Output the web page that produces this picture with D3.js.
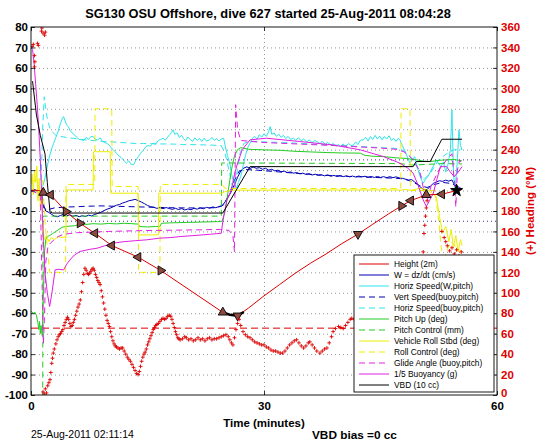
<!DOCTYPE html>
<html><head><meta charset="utf-8">
<script src="https://cdn.jsdelivr.net/npm/d3@7"></script>
<style>
body{margin:0;background:#fff;}
text{font-family:"Liberation Sans",Arial,Helvetica,sans-serif;}
</style></head>
<body><svg id="c" width="546" height="442"></svg>
<script>
// ---------------- DATA ----------------
const titleText = "SG130 OSU Offshore, dive 627 started 25-Aug-2011 08:04:28";
const xTicks = [0, 30, 60];
const yTicks = [-100,-90,-80,-70,-60,-50,-40,-30,-20,-10,0,10,20,30,40,50,60,70,80];
const yRTicks = [0,20,40,60,80,100,120,140,160,180,200,220,240,260,280,300,320,340,360];
const legendLabels = ["Height (2m)","W = dz/dt (cm/s)","Horiz Speed(W,pitch)","Vert Speed(buoy,pitch)",
  "Horiz Speed(buoy,pitch)","Pitch Up (deg)","Pitch Control (mm)","Vehicle Roll Stbd (deg)",
  "Roll Control (deg)","Glide Angle (buoy,pitch)","1/5 Buoyancy (g)","VBD (10 cc)"];
const wTargets = [15, -15];
const headingTarget = 65.4;

// [time (min), value]
const height = [[0,0],[0.5,0.2],[1.0,0],[1.3,-0.3],[1.58,-1],[2.54,-2.1],[4.5,-10.3],[6.3,-16],[8.24,-20.9],[10.4,-26.9],[13.8,-32.6],[16.7,-39.1],[24.7,-59.6],[25.5,-60.6],[26.6,-61.2],[28,-57.5],[30,-51.5],[32,-46],[34,-40.5],[36,-35.5],[38,-31],[40,-26],[42.1,-21.3],[44,-16.5],[46,-11.5],[47.7,-7.5],[48.9,-4.9],[50.9,-2.1],[52.9,-1.8],[54.8,0],[55.5,0.5]];
const heightMarks = [[1.58,-1,"up"],[2.54,-2.1,"left"],[4.5,-10.3,"right"],[6.3,-16,"right"],[8.24,-20.9,"left"],[10.4,-26.9,"left"],[13.8,-32.6,"left"],[16.7,-39.1,"right"],[24.7,-59.6,"up"],[26.6,-61.2,"down"],[42.1,-21.3,"down"],[47.7,-7.5,"right"],[48.9,-4.9,"left"],[50.9,-2.1,"up"],[52.9,-1.8,"left"]];
const heightBlack = [[24.7,-59.6],[25.6,-60.7],[26.6,-61.2],[27.4,-59.4]];
const heightStar = [[54.8,0]];

const wSpeed = [[0,0],[0.5,0.5],[1.0,-1],[1.3,-3],[1.6,-8],[1.9,-10],[2.2,-10.5],[2.6,-11.5],[3.0,-12.5],[3.4,-12.8],[3.8,-12.2],[4.2,-11.6],[4.6,-12.3],[5.0,-11.9],[5.4,-12.6],[5.8,-12.1],[6.2,-12.8],[6.6,-12.3],[7.0,-12.7],[7.4,-12.0],[7.8,-12.4],[8.2,-11.7],[8.6,-11.2],[9.0,-10.6],[9.4,-9.8],[9.8,-9.1],[10.2,-8.6],[10.6,-7.9],[11.0,-7.2],[11.4,-6.8],[11.8,-6.1],[12.2,-5.6],[12.6,-5.0],[13.0,-4.7],[13.4,-4.3],[13.8,-4.9],[14.2,-5.6],[14.6,-6.4],[15.0,-7.3],[15.4,-7.9],[15.8,-8.2],[16.2,-8.7],[16.6,-8.4],[17.0,-8.9],[17.4,-8.3],[17.8,-8.8],[18.2,-9.2],[18.6,-8.7],[19.0,-9.3],[19.4,-8.8],[19.8,-9.5],[20.2,-9.0],[20.6,-9.4],[21.0,-8.7],[21.4,-9.1],[21.8,-8.5],[22.2,-8.9],[22.6,-8.2],[23.0,-8.6],[23.4,-8.0],[23.8,-8.4],[24.2,-7.8],[24.6,-7.5],[25.0,-5.5],[25.4,-3.0],[25.8,-0.5],[26.2,3],[26.6,6.5],[27.0,9.5],[27.4,11.0],[27.8,11.6],[28.2,10.8],[28.6,11.5],[29.0,10.9],[29.4,11.2],[29.8,10.4],[30.2,10.9],[30.6,10.0],[31.0,10.4],[31.4,9.6],[31.8,10.0],[32.2,9.2],[32.6,9.5],[33.0,8.8],[33.4,9.1],[33.8,8.5],[34.2,8.8],[34.6,8.2],[35.0,8.5],[35.4,7.9],[35.8,8.2],[36.2,7.6],[36.6,8.0],[37.0,7.4],[37.4,7.7],[37.8,7.2],[38.2,7.6],[38.6,7.0],[39.0,7.4],[39.4,6.9],[39.8,7.3],[40.2,6.8],[40.6,7.2],[41.0,6.7],[41.4,7.1],[41.8,6.6],[42.2,7.1],[42.6,6.7],[43.0,7.0],[43.4,6.5],[43.8,6.9],[44.2,6.4],[44.6,6.9],[45.0,6.4],[45.4,6.8],[45.8,6.3],[46.2,6.8],[46.6,6.3],[47.0,6.7],[47.4,6.2],[47.8,6.0],[48.2,5.6],[48.6,5.1],[49.0,5.4],[49.4,4.2],[49.8,3.0],[50.2,1.5],[50.6,0.3],[51.0,0.5],[51.4,2.0],[51.8,3.5],[52.2,4.2],[52.6,4.8],[53.0,4.5],[53.4,5.1],[53.8,4.6],[54.2,5.2],[54.5,3.0],[54.8,0.8],[55.2,1.5],[55.5,0.5]];

const horizW = [[1.5,2],[1.8,6],[2.1,12],[2.4,17],[2.7,21],[2.9,23],[3.2,26],[3.5,29],[3.8,33],[4.0,35],[4.2,36.2],[4.4,34],[4.6,32],[4.8,31.3],[5.0,29.5],[5.2,28.5],[5.4,28],[5.6,27],[5.8,26.5],[6.0,25.8],[6.2,25],[6.5,24.8],[6.8,24.5],[7.1,26],[7.4,25],[7.7,26.4],[8.0,26.4],[8.3,25],[8.6,24.8],[8.9,25.8],[9.2,24],[9.5,23.5],[9.7,23.2],[10.0,22.5],[10.3,21],[10.6,20],[11.0,18.3],[11.3,17],[11.6,16.2],[12.0,14.5],[12.3,13.4],[12.6,14.5],[12.9,12.8],[13.2,12.6],[13.5,14.8],[13.8,16.5],[14.1,18.2],[14.5,19.9],[14.8,21.5],[15.1,22],[15.4,21.8],[15.7,23.2],[16.0,22.5],[16.4,24.5],[16.7,25],[17.0,25.6],[17.3,24.6],[17.6,26.2],[17.9,27.5],[18.1,28.5],[18.3,29.7],[18.5,27.5],[18.8,28.2],[19.1,26],[19.4,27],[19.6,25.6],[19.9,24.4],[20.2,26.2],[20.5,25],[20.8,24],[21.1,25.8],[21.4,24.5],[21.7,25.5],[22.0,24],[22.3,25.6],[22.6,24.2],[23.0,24.8],[23.3,26],[23.6,24.6],[23.9,25.4],[24.2,24.2],[24.5,25.2],[24.8,25.6],[25.0,22],[25.3,17],[25.6,13.4],[25.8,8.5],[26.1,4],[26.5,1.2],[26.7,4],[27.0,6.8],[27.3,12],[27.6,17],[27.9,21],[28.2,23.2],[28.5,25.6],[28.8,26.5],[29.1,25.2],[29.4,27.3],[29.7,26.1],[30.0,27.8],[30.3,26.5],[30.6,28.8],[30.8,31.3],[31.0,27.5],[31.3,28.2],[31.6,26.5],[31.9,27.6],[32.2,26],[32.5,27],[32.8,25.4],[33.1,26.5],[33.4,25],[33.8,25.6],[34.1,24.6],[34.4,25.8],[34.8,24.4],[35.1,25.2],[35.5,23.8],[35.8,24.8],[36.2,23.5],[36.5,24.5],[36.8,24],[37.2,23],[37.5,24.2],[37.9,22.6],[38.2,23.6],[38.6,22.2],[38.9,23],[39.3,21.8],[39.6,22.6],[39.8,21.5],[40.2,22.8],[40.5,21.6],[40.9,23],[41.2,22],[41.5,22.3],[41.8,23.8],[42.1,22.5],[42.4,24.6],[42.8,24.8],[43.1,26],[43.4,24.2],[43.7,26.4],[44.0,25],[44.3,27],[44.6,25.2],[44.9,26.6],[45.2,24.8],[45.5,26.5],[45.8,25.2],[46.1,26.8],[46.4,24.5],[46.7,25.5],[47.0,24],[47.3,25.6],[47.5,24.8],[47.8,22],[48.1,19.9],[48.4,17],[48.8,13.4],[49.1,15],[49.4,16.6],[49.7,12],[50.0,8],[50.3,5],[50.5,3.6],[50.8,5.5],[51.1,6.8],[51.4,9],[51.8,12],[52.2,15],[52.5,13],[52.8,11.7],[53.1,14],[53.4,9],[53.7,13],[54.0,20],[54.2,39.4],[54.4,8],[54.6,0.3],[54.9,15],[55.1,29.7],[55.3,22],[55.5,20]];

const vertBuoy = [[1.4,-2],[1.7,-8],[2.0,-10],[2.5,-9],[3,-8.5],[4,-8.2],[5,-8.0],[6,-7.9],[7,-7.7],[8,-7.6],[9,-7.5],[10,-7.6],[12,-7.8],[14,-8.0],[16,-8.2],[18,-8.4],[20,-8.5],[22,-8.5],[24,-8.4],[24.8,-7],[25.5,-2],[26.2,5],[26.8,9.5],[27.5,10.3],[29,10.0],[31,9.4],[33,8.8],[35,8.2],[37,7.7],[39,7.3],[41,6.9],[43,6.6],[45,6.3],[47,6.0],[48,5.7],[49,4.5],[50,2.5],[51,1.5],[52,3],[53,4],[54,3.5],[55,2],[55.5,1.5]];

const horizBuoy = [[1.3,5],[1.5,30],[1.7,45.9],[1.9,40],[2.1,35],[2.4,31],[2.8,28.5],[3.2,27],[3.8,26.5],[4.5,26],[5.5,25.5],[6.5,25],[7.5,24.6],[8.5,24.3],[9.5,24],[10.5,23.8],[11.5,23.5],[12.5,23.3],[13.5,23],[14.5,23],[15.5,23],[16.5,22.8],[17.5,22.8],[18.5,22.7],[19.5,22.5],[20.5,22.5],[21.5,22.4],[22.5,22.3],[23.5,22.2],[24.5,22.0],[25,18],[25.6,8],[26.0,1],[26.4,6],[26.9,18],[27.4,23],[28,24],[30,23.8],[32,23.5],[34,23.2],[36,22.8],[38,22.4],[40,22],[42,21.6],[44,21.2],[46,20.8],[47.5,20.5],[48.5,18],[49.5,13],[50.5,5],[51.5,9],[52.5,15],[53.5,18],[54.5,20],[55.5,20]];

const pitchUp = [[0,-59],[0.3,-60],[0.5,-59.5],[0.7,-61],[0.9,-65],[1.0,-68],[1.1,-64],[1.2,-70],[1.3,-66],[1.45,-71],[1.6,-50],[1.75,-30],[1.9,-24],[2.1,-22.5],[2.4,-22],[2.8,-21],[3.2,-20],[3.6,-19],[4.0,-18],[4.4,-17.6],[5.0,-17.4],[5.6,-17.2],[6.3,-16.5],[7,-16.6],[8,-16.2],[9,-16.4],[10,-16.1],[11,-16.3],[12,-16],[13,-16.2],[13.8,-16.4],[14,-17.6],[15,-17.8],[16,-17.6],[16.6,-17.5],[16.8,-16],[18,-15.8],[20,-15.6],[22,-15.4],[24,-15.2],[24.6,-15],[25.0,-10],[25.4,0],[25.8,10],[26.2,17],[26.6,20],[27,21],[28,20.2],[30,19.9],[32,19.7],[34,19.2],[36,18.9],[38,18.6],[40,18.4],[42.4,18.3],[43,17.2],[44,16.8],[45.4,16.6],[47,16],[48,15.8],[49.7,15],[50.5,14.4],[51.5,14.2],[52.5,14.8],[53.5,15],[54.5,15.2],[55.5,14.5]];

const pitchCtl = [[0,-120],[1.5,-120],[1.55,-12.5],[24.5,-12.5],[24.55,13.5],[47.5,13.2],[49,12.5],[51,12.8],[53,13.2],[55.5,13]];

const rollStbd = [[0,3],[0.15,8],[0.3,-2],[0.45,10],[0.6,4],[0.75,12],[0.9,-5],[1.05,6],[1.2,-8],[1.35,2],[1.5,-15],[1.7,-24],[2.0,-22],[2.3,-25],[2.6,-23],[3.0,-24],[3.5,-22.5],[4.0,-23],[4.5,-22.5],[4.55,0.3],[8.0,0.3],[8.05,19],[10.2,19],[10.25,-1.3],[13.8,-1.3],[13.85,-21.7],[16.4,-21.7],[16.45,-1.3],[24.6,-1.3],[25,-0.5],[26,0.2],[47.4,0.3],[47.5,0],[48,0.5],[49,0.2],[50,1],[51,0.5],[52.2,-3],[52.6,-12.7],[53.0,-20.8],[53.4,-17.6],[53.8,-25],[54.1,-19],[54.4,-28],[54.7,-22],[55.0,-30],[55.3,-24],[55.5,-27]];

const rollCtl = [[0,5],[1.5,5],[1.8,-15],[2.4,-40],[4.45,-40],[4.5,3],[8.2,3],[8.25,40],[10.4,40],[10.45,2],[13.8,2],[13.85,-40],[16.6,-40],[16.65,3],[24.6,3],[25,1],[47.6,1],[47.65,40],[48.8,40],[48.85,0],[52,0],[52.5,-15],[53,-35],[54,-25],[55.5,-30]];

const glide = [[0,0],[1.2,-2],[1.4,-40],[1.6,-75],[1.75,-60],[1.9,-35],[2.2,-27],[2.5,-25.7],[3.0,-24],[3.5,-22.5],[4.2,-21.4],[5,-21],[6,-20.6],[8,-20.3],[10,-20],[12,-19.8],[14,-19.6],[16,-19.5],[18,-19.4],[20,-19.3],[22,-19.2],[24.4,-19],[25.5,-19.5],[26.0,-22],[26.2,-30],[26.35,42],[26.6,30],[27,24.5],[30,23.5],[33,23],[36,22.5],[39,22],[42,21.4],[45,20.8],[47,20.2],[48,19],[49,16],[50,10],[50.6,0],[51,-5],[51.5,2],[52.5,10],[53.5,15],[54.2,18],[54.5,5],[54.7,-8],[54.9,10],[55.2,15],[55.5,12]];

const buoyancy = [[0,70],[0.2,69],[0.4,62],[0.6,52],[0.8,42],[1.0,30],[1.2,15],[1.4,-5],[1.6,-25],[1.8,-40],[2.1,-50],[2.4,-56.7],[2.7,-50],[3.1,-38.8],[3.5,-38.5],[4.2,-38.8],[4.6,-36],[5,-34],[5.6,-31.5],[6.3,-29.8],[7.5,-28.8],[8.5,-28.2],[9.5,-27],[10.6,-25.7],[12,-25],[13.5,-24.5],[14.9,-24.1],[16.5,-23.3],[18,-23],[19.2,-22.5],[21,-22],[23,-21.4],[24.5,-20.9],[24.7,-15],[25.2,-5],[25.8,0.3],[26.2,8],[26.6,13.4],[27.2,20],[28.2,24.8],[30.3,25.6],[34.6,24],[38.9,22.3],[42.4,19.9],[45.4,16.6],[47.5,13.4],[48.5,11],[49.2,8.5],[49.8,3],[50.5,-4.6],[50.9,-7.8],[51.3,-5],[51.8,-1.3],[52.3,6],[52.7,11.7],[53.5,11.7],[54.0,9],[54.5,6.8],[55.0,9],[55.5,11.7]];

const vbd = [[0.2,53.5],[0.7,37],[1.2,27],[1.8,18],[2.1,4],[2.45,-10.5],[2.8,-11],[24.7,-11],[28.2,11.7],[49.2,11.7],[49.6,14.2],[51.4,14.2],[52.9,25.1],[55.5,25.1]];

// heading: [time (min), degrees M]
const heading = [[0.15,341],[0.3,343],[0.45,332],[0.5,326],[0.45,321],[0.85,344],[0.95,342],[1.35,356],[1.4,359],[1.55,354],[1.75,352],[1.85,355],
[1.55,3],[1.7,1],[1.85,6],[2.0,2],[2.15,9],[2.3,12],[2.45,15],[2.55,22],[2.67,31],[2.77,36],[2.87,41],[3.0,45],[3.2,50],[3.35,54],[3.5,57],[3.65,59],[3.8,60],[3.95,62],[4.1,64],[4.25,68],[4.4,71],[4.55,74],[4.7,76],[4.85,74],[5.0,70],[5.15,67],[5.3,68],[5.45,71],[5.6,74],[5.75,78],[5.9,82],[6.05,86],[6.2,89],[6.35,93],[6.5,101],[6.65,110],[6.8,118],[6.95,124],[7.1,122],[7.25,119],[7.4,118],[7.55,119],[7.7,121],[7.85,123],[8.0,124],[8.15,122],[8.3,118],[8.45,115],[8.6,112],[8.75,110],[8.9,108],[9.05,102],[9.2,96],[9.35,90],[9.5,84],[9.65,78],[9.8,73],[9.95,70],[10.1,67],[10.25,62],[10.4,57],[10.55,53],[10.7,50],[10.85,48],[11.0,47],[11.2,46],[11.4,45],[11.6,46],[11.8,46],[12.0,43],[12.2,40],[12.4,37],[12.6,35],[12.8,33],[13.0,30],[13.2,27],[13.4,24],[13.6,21],[13.8,20],[13.95,23],[14.1,28],[14.25,33],[14.4,37],[14.55,40],[14.7,42],[14.85,45],[15.0,49],[15.15,52],[15.3,55],[15.45,58],[15.6,61],[15.75,64],[15.9,66],[16.05,68],[16.2,69],[16.4,70],[16.6,72],[16.8,74],[17.0,75],[17.2,74],[17.4,75],[17.6,77],[17.8,78],[18.0,77],[18.15,74],[18.3,70],[18.45,66],[18.6,62],[18.75,59],[18.9,56],[19.05,55],[19.2,54],
[19.5,55],[19.8,57],[20.0,56],[20.3,54],[20.6,55],[20.9,53],[21.2,54],[21.5,56],[21.8,54],[22.1,55],[22.4,53],[22.7,55],[23.0,56],[23.3,54],[23.6,55],[23.9,55],[24.2,56],[24.5,57],[24.8,58],[25.1,59],[25.4,57],[25.6,54],[25.8,51],[26.0,49],[26.2,56],[26.4,64],[26.6,70],[26.8,74],[27.0,68],[27.3,62],[27.6,59],[27.9,57],[28.2,56],[28.5,54],[28.8,52],[29.1,51],[29.4,50],[29.7,49],[30.0,49],[30.3,47],[30.6,46],[30.9,44],[31.2,43],[31.5,43],[31.8,42],[32.1,41],[32.4,41],[32.7,43],[33.0,46],[33.3,49],[33.6,51],[33.9,53],[34.2,54],[34.5,51],[34.8,48],[35.1,46],[35.4,48],[35.7,51],[35.9,52],[36.2,49],[36.5,46],[36.8,43],[37.2,41],[37.5,43],[37.8,45],[38.1,46],[38.4,51],[38.7,57],[38.9,62],[39.2,65],[39.6,67],[39.9,66],[40.2,65],[40.5,68],[40.8,71],[41.1,74],[41.3,75],[41.6,74],[41.9,73],[42.1,73],
[42.5,74],[43.0,77],[43.5,80],[44.0,82],[44.5,84],[45.0,86],[45.5,85],[46.0,88],[46.5,90],[47.0,92],[47.5,95],[48.0,100],[48.5,108],[49.0,115],[49.5,118],[50.0,122],[50.3,128],[50.5,140],[50.6,158],[50.7,166],[50.8,175],[50.9,183],[51.0,190],
[52.9,160],[53.2,154],[53.4,150],[53.6,146],[53.9,141],[54.2,144],[54.5,138],[54.8,142],[55.1,136],[55.4,140]];

// ---------------- DRAW ----------------
const svg = d3.select("#c");
const L = 31, R = 497, T = 27, B = 395;
const x = d3.scaleLinear().domain([0, 60]).range([L, R]);
const y = d3.scaleLinear().domain([-100, 80]).range([B, T]);
const yR = d3.scaleLinear().domain([0, 360]).range([B, T]);

const C = {red:"#dd0000", blue:"#0000b4", cyan:"#2ee4ea", green:"#22cc22", yellow:"#eeee00", mag:"#e020e0", black:"#000"};

svg.append("rect").attr("x",0).attr("y",0).attr("width",546).attr("height",442).attr("fill","#fff");
svg.append("defs").append("clipPath").attr("id","clip")
  .append("rect").attr("x",L).attr("y",T).attr("width",R-L).attr("height",B-T);

// grid
const grid = svg.append("g").attr("class","grid");
grid.append("g").attr("transform",`translate(${L},0)`)
  .call(d3.axisLeft(y).tickValues(yTicks.filter(v=>v>-100&&v<80)).tickSize(-(R-L)).tickFormat(""))
  .call(g=>g.select(".domain").remove())
  .call(g=>g.selectAll("line").attr("stroke","#666").attr("stroke-width",0.7).attr("stroke-dasharray","1,3"));
grid.append("g").attr("transform",`translate(0,${B})`)
  .call(d3.axisBottom(x).tickValues([30]).tickSize(-(B-T)).tickFormat(""))
  .call(g=>g.select(".domain").remove())
  .call(g=>g.selectAll("line").attr("stroke","#666").attr("stroke-width",0.7).attr("stroke-dasharray","1,3"));
grid.selectAll("line.wt").data(wTargets).join("line").attr("class","wt")
  .attr("x1",L).attr("x2",R).attr("y1",d=>y(d)).attr("y2",d=>y(d))
  .attr("stroke","#000080").attr("stroke-width",0.8).attr("stroke-dasharray","1,3");

const plot = svg.append("g").attr("clip-path","url(#clip)");
const line = d3.line().x(d=>x(d[0])).y(d=>y(d[1]));

// heading target dashed
plot.append("line").attr("x1",L).attr("x2",R).attr("y1",yR(headingTarget)).attr("y2",yR(headingTarget))
  .attr("stroke",C.red).attr("stroke-width",1).attr("stroke-dasharray","7,4");

const series = [
  [wSpeed, C.blue, null],
  [horizW, C.cyan, null],
  [vertBuoy, C.blue, "6,4"],
  [horizBuoy, C.cyan, "6,4"],
  [pitchUp, C.green, null],
  [pitchCtl, C.green, "6,4"],
  [rollStbd, C.yellow, null],
  [rollCtl, C.yellow, "6,4"],
  [glide, C.mag, "6,4"],
  [buoyancy, C.mag, null],
  [vbd, C.black, null]
];
series.forEach(([d,c,dash])=>{
  plot.append("path").datum(d).attr("d",line).attr("fill","none").attr("stroke",c)
    .attr("stroke-width",1).attr("stroke-dasharray",dash);
});

// height line + markers
plot.append("path").datum(height).attr("d",line).attr("fill","none").attr("stroke",C.red).attr("stroke-width",1);
plot.append("path").datum(heightBlack).attr("d",line).attr("fill","none").attr("stroke","#000").attr("stroke-width",2.5);
const rot = {up:0,right:90,down:180,left:-90};
plot.selectAll("path.hm").data(heightMarks).join("path").attr("class","hm")
  .attr("d",d3.symbol(d3.symbolTriangle,36))
  .attr("transform",d=>`translate(${x(d[0])},${y(d[1])}) rotate(${rot[d[2]]})`)
  .attr("fill","#8a4a40").attr("stroke","#000").attr("stroke-width",0.9);
plot.selectAll("path.hs").data(heightStar).join("path").attr("class","hs")
  .attr("d",d3.symbol(d3.symbolStar,45))
  .attr("transform",d=>`translate(${x(d[0])},${y(d[1])})`).attr("fill","#000").attr("stroke","#000");

// heading +
plot.selectAll("path.hd").data(heading).join("path").attr("class","hd")
  .attr("d","M-1.9,0H1.9M0,-1.9V1.9")
  .attr("transform",d=>`translate(${x(d[0])},${yR(d[1])})`)
  .attr("stroke",C.red).attr("stroke-width",0.9).attr("fill","none");

// axes
const fmt = d=>String(d);
const ax = svg.append("g");
ax.append("g").attr("transform",`translate(${L},0)`)
  .call(d3.axisLeft(y).tickValues(yTicks).tickSizeInner(-4).tickSizeOuter(0).tickPadding(3).tickFormat(fmt))
  .call(g=>g.select(".domain").remove());
ax.append("g").attr("class","yr").attr("transform",`translate(${R},0)`)
  .call(d3.axisRight(yR).tickValues(yRTicks).tickSizeInner(-4).tickSizeOuter(0).tickPadding(4).tickFormat(fmt))
  .call(g=>g.select(".domain").remove())
  .call(g=>g.selectAll("text").attr("fill",C.red));
ax.append("g").attr("transform",`translate(0,${B})`)
  .call(d3.axisBottom(x).tickValues(xTicks).tickSizeInner(-4).tickSizeOuter(0).tickPadding(7).tickFormat(fmt))
  .call(g=>g.select(".domain").remove());
ax.append("g").attr("transform",`translate(0,${T})`)
  .call(d3.axisTop(x).tickValues(xTicks).tickSizeInner(-4).tickSizeOuter(0).tickFormat(""))
  .call(g=>g.select(".domain").remove());
ax.selectAll("text").attr("font-size","11.5px").attr("font-weight","bold")
  .attr("font-family","'Liberation Sans',Arial,sans-serif");
// lift the lowest right-axis label slightly so it clears the "60" below
ax.select("g.yr").selectAll(".tick").filter(d=>d===0).select("text").attr("dy","0.1em");
ax.selectAll(".tick line").attr("stroke","#000").attr("stroke-width",0.8);
svg.append("rect").attr("x",L).attr("y",T).attr("width",R-L).attr("height",B-T)
  .attr("fill","none").attr("stroke","#000").attr("stroke-width",0.9);

// texts
svg.append("text").attr("x",(L+R)/2+4).attr("y",18).attr("text-anchor","middle")
  .attr("font-size","12.8px").attr("font-weight","bold").text(titleText);
svg.append("text").attr("x",(L+R)/2).attr("y",427).attr("text-anchor","middle")
  .attr("font-size","11.5px").attr("font-weight","bold").text("Time (minutes)");
svg.append("text").attr("x",31).attr("y",438).attr("font-size","10.5px").text("25-Aug-2011 02:11:14");
svg.append("text").attr("x",312).attr("y",439).attr("font-size","11.8px").attr("font-weight","bold").text("VBD bias =0 cc");
svg.append("text").attr("transform",`translate(534,${(T+B)/2}) rotate(-90)`).attr("text-anchor","middle")
  .attr("font-size","11.5px").attr("font-weight","bold").attr("fill",C.red).text("(+) Heading (\u00B0M)");

// legend
const legStyles = [[C.red,null],[C.blue,null],[C.cyan,null],[C.blue,"6,4"],[C.cyan,"6,4"],[C.green,null],[C.green,"6,4"],[C.yellow,null],[C.yellow,"6,4"],[C.mag,"6,4"],[C.mag,null],[C.black,null]];
const lg = svg.append("g");
lg.append("rect").attr("x",354).attr("y",255).attr("width",140).attr("height",137)
  .attr("fill","#fff").attr("stroke","#000").attr("stroke-width",0.9);
const ly = d3.scalePoint().domain(d3.range(legendLabels.length)).range([264,385]);
legendLabels.forEach((lab,i)=>{
  lg.append("line").attr("x1",359).attr("x2",389).attr("y1",ly(i)).attr("y2",ly(i))
    .attr("stroke",legStyles[i][0]).attr("stroke-width",1).attr("stroke-dasharray",legStyles[i][1]);
  lg.append("text").attr("x",394).attr("y",ly(i)+3).attr("font-size","8.4px").text(lab);
});
</script></body></html>
